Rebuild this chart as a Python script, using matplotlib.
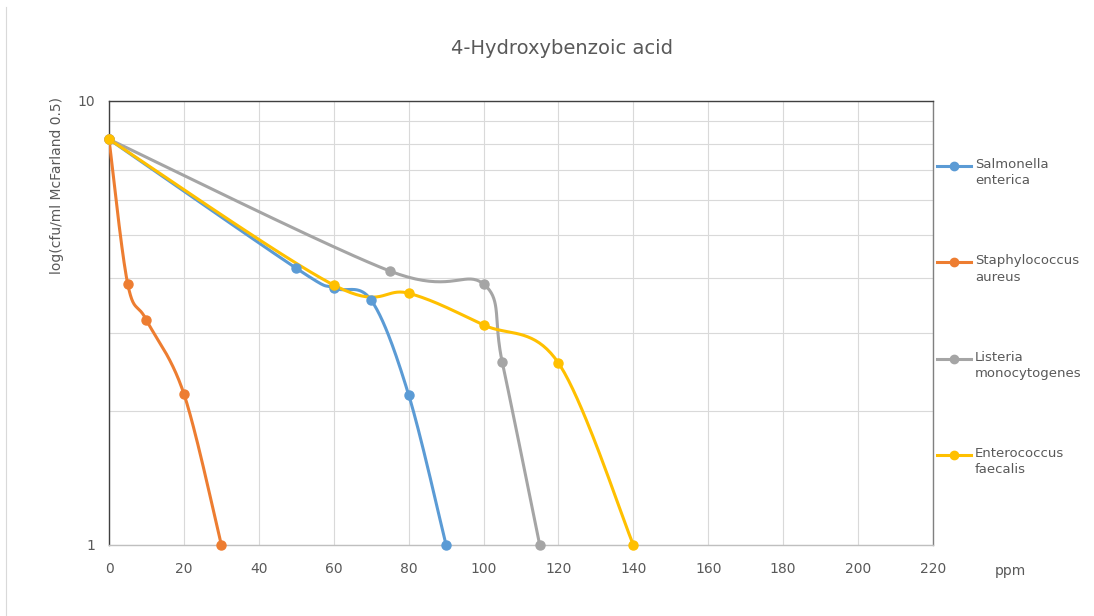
import numpy as np
import matplotlib
matplotlib.use("Agg")
import matplotlib.pyplot as plt
from matplotlib.lines import Line2D
from matplotlib.ticker import FixedLocator, NullFormatter

# ppm concentration vs. surviving count (cfu/ml)
salmonella_x = [0, 50, 60, 70, 80, 90]
salmonella_y = [8.2, 4.2, 3.79, 3.56, 2.18, 1.0]

staph_x = [0, 5, 10, 20, 30]
staph_y = [8.2, 3.87, 3.21, 2.19, 1.0]

listeria_x = [0, 75, 100, 105, 115]
listeria_y = [8.2, 4.14, 3.87, 2.58, 1.0]

entero_x = [0, 60, 80, 100, 120, 140]
entero_y = [8.2, 3.85, 3.69, 3.13, 2.57, 1.0]

names = ["Salmonella\nenterica", "Staphylococcus\naureus",
         "Listeria\nmonocytogenes", "Enterococcus\nfaecalis"]
colors = ["#5B9BD5", "#ED7D31", "#A5A5A5", "#FFC000"]

x_ticks = list(range(0, 221, 20))


def smooth(xs, ys, n=40):
    # Catmull-Rom spline through the points, done in log-y space
    px = np.asarray(xs, float)
    py = np.log10(np.asarray(ys, float))
    pts = np.column_stack([px, py])
    pts = np.vstack([pts[0], pts, pts[-1]])
    out = []
    t = np.linspace(0, 1, n)[:, None]
    for i in range(1, len(pts) - 2):
        p0, p1, p2, p3 = pts[i - 1], pts[i], pts[i + 1], pts[i + 2]
        c1 = p1 + (p2 - p0) / 6
        c2 = p2 - (p3 - p1) / 6
        seg = ((1 - t) ** 3) * p1 + 3 * ((1 - t) ** 2) * t * c1 \
            + 3 * (1 - t) * t ** 2 * c2 + t ** 3 * p2
        out.append(seg if i == 1 else seg[1:])
    out = np.vstack(out)
    return out[:, 0], 10 ** out[:, 1]


fig = plt.figure(figsize=(10.94, 6.16), dpi=100)
ax = fig.add_axes([109 / 1094, 71 / 616, 824 / 1094, 444 / 616])

series = [(salmonella_x, salmonella_y), (staph_x, staph_y),
          (listeria_x, listeria_y), (entero_x, entero_y)]
for (xs, ys), c in zip(series, colors):
    sx, sy = smooth(xs, ys)
    ax.plot(sx, sy, color=c, lw=2.2, solid_capstyle="round", zorder=3)
    ax.plot(xs, ys, "o", color=c, ms=6.5, zorder=4, clip_on=False)

ax.set_yscale("log")
ax.set_ylim(1, 10)
ax.set_xlim(0, 220)
ax.set_xticks(x_ticks)
ax.set_yticks([1, 10])
ax.set_yticklabels(["1", "10"])
ax.yaxis.set_minor_locator(FixedLocator(range(2, 10)))
ax.yaxis.set_minor_formatter(NullFormatter())
ax.tick_params(axis="both", which="both", length=0, colors="#595959",
               labelsize=10)
ax.tick_params(axis="x", pad=12)
ax.tick_params(axis="y", pad=10)
ax.grid(True, which="both", color="#D9D9D9", lw=0.8)
ax.set_axisbelow(True)

ax.spines["top"].set_color("#404040")
ax.spines["left"].set_color("#404040")
ax.spines["right"].set_color("#808080")
ax.spines["bottom"].set_color("#BFBFBF")
for s in ax.spines.values():
    s.set_linewidth(1.0)

fig.text(562 / 1094, 1 - 48 / 616, "4-Hydroxybenzoic acid", ha="center",
         va="center", fontsize=14, color="#595959")
fig.text(57 / 1094, 1 - 185 / 616, "log(cfu/ml McFarland 0.5)", rotation=90,
         ha="center", va="center", fontsize=10, color="#595959")
fig.text(1010 / 1094, 1 - 571 / 616, "ppm", ha="center", va="center",
         fontsize=10, color="#595959")

# legend keys on the right
for i, (name, c) in enumerate(zip(names, colors)):
    yk = 1 - (166 + 96.3 * i) / 616
    fig.add_artist(Line2D([937 / 1094, 971 / 1094], [yk, yk], color=c, lw=2.2,
                          transform=fig.transFigure))
    fig.add_artist(Line2D([954 / 1094], [yk], marker="o", color=c, ms=6,
                          transform=fig.transFigure))
    fig.text(975 / 1094, yk + 8 / 616, name, ha="left", va="top",
             fontsize=9.5, color="#595959", linespacing=1.35)

# outer chart border
fig.add_artist(Line2D([6 / 1094, 6 / 1094], [0, 1 - 7 / 616], color="#D9D9D9",
                      lw=0.8, transform=fig.transFigure))

fig.savefig("out.png", dpi=100)
